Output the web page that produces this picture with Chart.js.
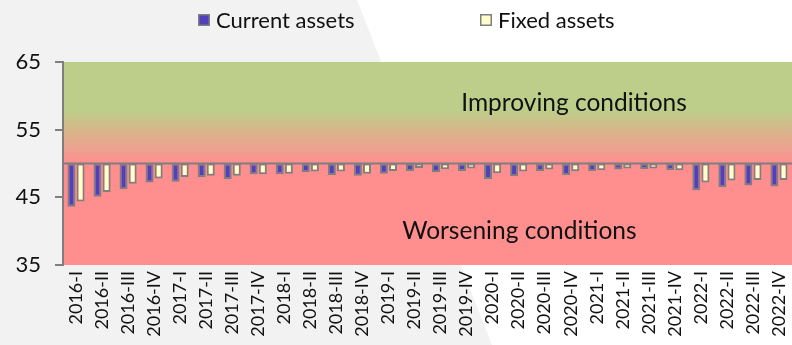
<!DOCTYPE html>
<html>
<head>
<meta charset="utf-8">
<script src="https://cdn.jsdelivr.net/npm/chart.js@4/dist/chart.umd.min.js"></script>
<style>
  html, body { margin: 0; padding: 0; background: #f2f2f2; }
  #wrap { width: 792px; height: 345px; }
</style>
</head>
<body>
<div id="wrap"><canvas id="c" width="792" height="345"></canvas></div>
<script>
// Quarterly survey balance: values under 50 mean worsening conditions
const categories = [
  '2016-I', '2016-II', '2016-III', '2016-IV',
  '2017-I', '2017-II', '2017-III', '2017-IV',
  '2018-I', '2018-II', '2018-III', '2018-IV',
  '2019-I', '2019-II', '2019-III', '2019-IV',
  '2020-I', '2020-II', '2020-III', '2020-IV',
  '2021-I', '2021-II', '2021-III', '2021-IV',
  '2022-I', '2022-II', '2022-III', '2022-IV'
];
const currentAssets = [
  43.6, 45.1, 46.2, 47.2,
  47.3, 48.0, 47.7, 48.4,
  48.4, 48.7, 48.3, 48.2,
  48.5, 48.9, 48.7, 48.9,
  47.7, 48.1, 48.9, 48.3,
  48.9, 49.1, 49.2, 49.05,
  46.05, 46.5, 46.75, 46.6
];
const fixedAssets = [
  44.4, 45.8, 47.0, 47.8,
  48.0, 48.2, 48.2, 48.4,
  48.5, 48.8, 48.8, 48.5,
  48.9, 49.35, 49.15, 49.25,
  48.55, 48.8, 49.1, 48.85,
  49.0, 49.25, 49.25, 49.0,
  47.2, 47.5, 47.55, 47.55
];
const seriesNames = ['Current assets', 'Fixed assets'];
const neutralLevel = 50;
const yMin = 35, yMax = 65, yStep = 10;
const zoneLabels = ['Improving conditions', 'Worsening conditions'];

const FONT = 'Lato, "Open Sans", sans-serif';
const TEXT = '#111111';
const EDGE = '#7f7f7f';
const legendX = [198, 480];   // left edge of each legend swatch
const legendY = 20;           // legend row centre

// Page backdrop, plot zones, neutral line, zone captions and legend
const decor = {
  id: 'decor',
  beforeDraw(chart) {
    const ctx = chart.ctx;
    const W = chart.width, H = chart.height;
    ctx.save();
    ctx.fillStyle = '#f2f2f2';
    ctx.fillRect(0, 0, W, H);
    ctx.fillStyle = '#ffffff';
    ctx.beginPath();
    ctx.moveTo(357, 0);
    ctx.lineTo(W, 0);
    ctx.lineTo(W, H);
    ctx.lineTo(492, H);
    ctx.closePath();
    ctx.fill();

    // green above, red below the neutral level
    const a = chart.chartArea, y = chart.scales.y;
    const top = y.getPixelForValue(yMax), bot = y.getPixelForValue(yMin);
    const f = v => (y.getPixelForValue(v) - top) / (bot - top);
    const g = ctx.createLinearGradient(0, top, 0, bot);
    g.addColorStop(0, '#bdce8b');
    g.addColorStop(f(57.8), '#bdce8b');
    g.addColorStop(f(55), '#d6b68a');
    g.addColorStop(f(51.5), '#f29c90');
    g.addColorStop(f(neutralLevel), '#ff8f8f');
    g.addColorStop(1, '#ff8f8f');
    ctx.fillStyle = g;
    ctx.fillRect(a.left, top, a.right - a.left, bot - top);

    // legend row
    ctx.font = '22px ' + FONT;
    ctx.textAlign = 'left';
    ctx.textBaseline = 'middle';
    chart.data.datasets.forEach((d, i) => {
      const x = legendX[i];
      ctx.fillStyle = d.backgroundColor;
      ctx.fillRect(x, legendY - 6, 12, 12);
      ctx.strokeStyle = EDGE;
      ctx.lineWidth = 1.5;
      ctx.strokeRect(x + 0.75, legendY - 5.25, 10.5, 10.5);
      ctx.fillStyle = TEXT;
      ctx.fillText(d.label, x + 18, legendY + 1);
    });
    ctx.restore();
  },
  beforeDatasetsDraw(chart) {
    const ctx = chart.ctx, a = chart.chartArea, y = chart.scales.y;
    const w = a.right - a.left;
    ctx.save();
    ctx.fillStyle = TEXT;
    ctx.font = '24.5px ' + FONT;
    ctx.textAlign = 'center';
    ctx.textBaseline = 'middle';
    ctx.fillText(zoneLabels[0], a.left + w * 0.701, y.getPixelForValue(59));
    ctx.fillText(zoneLabels[1], a.left + w * 0.626, y.getPixelForValue(40));

    // neutral line at 50
    const y50 = y.getPixelForValue(neutralLevel);
    ctx.strokeStyle = EDGE;
    ctx.lineWidth = 2;
    ctx.beginPath();
    ctx.moveTo(a.left, y50);
    ctx.lineTo(a.right, y50);
    ctx.stroke();
    ctx.restore();
  }
};

new Chart(document.getElementById('c'), {
  type: 'bar',
  data: {
    labels: categories,
    datasets: [
      {
        label: seriesNames[0],
        data: currentAssets,
        base: neutralLevel,
        backgroundColor: '#5040be',
        borderColor: EDGE,
        borderWidth: 2,
        borderSkipped: false
      },
      {
        label: seriesNames[1],
        data: fixedAssets,
        base: neutralLevel,
        backgroundColor: '#ffffcc',
        borderColor: EDGE,
        borderWidth: 2,
        borderSkipped: false
      }
    ]
  },
  options: {
    responsive: false,
    animation: false,
    devicePixelRatio: 1,
    categoryPercentage: 0.7,
    barPercentage: 0.88,
    layout: { padding: { top: 62, right: 0, left: 0, bottom: 0 } },
    plugins: {
      tooltip: { enabled: false },
      legend: { display: false }
    },
    scales: {
      x: {
        grid: { display: false, drawTicks: false },
        border: { display: false },
        ticks: {
          font: { family: FONT, size: 18 },
          color: TEXT,
          minRotation: 90,
          maxRotation: 90,
          autoSkip: false,
          padding: 6
        },
        afterFit(s) {
          s.height = 80;
          // let the plot run to the right edge; end labels may touch it
          s.paddingLeft = 0;
          s.paddingRight = 0;
        }
      },
      y: {
        min: yMin,
        max: yMax,
        grid: {
          drawOnChartArea: false,
          drawTicks: true,
          tickLength: 8,
          color: EDGE,
          lineWidth: 2
        },
        border: { display: true, color: EDGE, width: 2 },
        ticks: {
          stepSize: yStep,
          font: { family: FONT, size: 22 },
          color: TEXT,
          padding: 14
        },
        afterFit(s) { s.width = 63; }
      }
    }
  },
  plugins: [decor]
});
</script>
</body>
</html>
